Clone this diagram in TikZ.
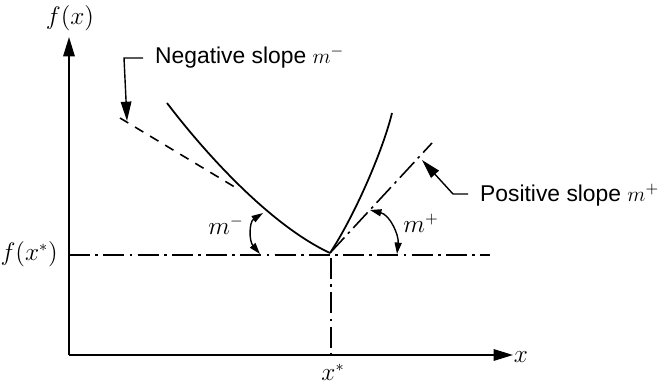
\documentclass[tikz,border=0pt]{standalone}
\usepackage{fontspec}
\setsansfont{Liberation Sans}
\usepackage{tikz}
\usetikzlibrary{arrows.meta, positioning}

\begin{document}
\begin{tikzpicture}[
    x=0.02cm, y=-0.02cm,
    axis/.style={line width=1pt, -{Triangle[length=11pt, width=6.5pt]}},
    curve/.style={line width=1pt},
    dashdot/.style={line width=0.9pt, dash pattern=on 12pt off 3pt on 1.5pt off 3pt},
    tangent/.style={line width=0.9pt, dash pattern=on 5.5pt off 4.5pt},
    leader/.style={line width=0.8pt, -{Triangle[length=11pt, width=6pt]}},
    angle/.style={line width=0.8pt, {Triangle[length=6.5pt, width=4pt]}-{Triangle[length=6.5pt, width=4pt]}},
    callout/.style={font=\sffamily\fontsize{13}{15}\selectfont, anchor=west},
    mathlbl/.style={font=\fontsize{13.5}{15}\selectfont},
]
    \useasboundingbox (0,0) rectangle (665,385);

    \coordinate (origin) at (69,355);
    \coordinate (ytip) at (69,37);
    \coordinate (xtip) at (513,355);
    \coordinate (vertex) at (330,253);
    \coordinate (hleft) at (69,255);
    \coordinate (hright) at (490,255);
    \coordinate (vtop) at (331,258);
    \coordinate (vbot) at (331,355);

    \draw[axis] (origin) -- (ytip);
    \draw[axis] (origin) -- (xtip);
    \node[mathlbl] (fx) at (70,18) {$f(x)$};
    \node[mathlbl] (xlbl) at (521,357) {$x$};
    \node[mathlbl, anchor=east] (fxstar) at (64,254) {$f(x^{*})$};
    \node[mathlbl, inner sep=1pt] (xstar) at (333,372) {$x^{*}$};

    \draw[dashdot] (hleft) -- (hright);
    \draw[dashdot] (vtop) -- (vbot);

    \coordinate (ltop) at (167,103);
    \coordinate (rtop) at (392,113);
    \draw[curve] (ltop) .. controls (205,153) and (270,225) .. (vertex);
    \draw[curve] (vertex) .. controls (355,215) and (383,150) .. (rtop);

    \coordinate (negstart) at (120,118);
    \coordinate (negend) at (238,189);
    \draw[tangent] (negstart) -- (negend);
    \coordinate (posend) at (432,143);
    \draw[dashdot] (vertex) -- (posend);

    \node[callout] (negtext) at (149,57) {Negative slope $m^{-}$};
    \coordinate (negbend) at (124,58);
    \draw[leader] (143,58) -- (negbend) -- (127,121);
    \node[callout] (postext) at (474,195) {Positive slope $m^{+}$};
    \coordinate (posbend) at (453,194);
    \draw[leader] (468,194) -- (posbend) -- (422,160);

    \coordinate (mminus1) at (263,213);
    \coordinate (mminus2) at (260,254);
    \draw[angle] (mminus1) .. controls (249,222) and (249,241) .. (mminus2);
    \node[mathlbl] (mminus) at (226,225) {$m^{-}$};
    \coordinate (mplus1) at (370,210);
    \coordinate (mplus2) at (397,254);
    \draw[angle] (mplus1) .. controls (390,215) and (399,235) .. (mplus2);
    \node[mathlbl] (mplus) at (421,223) {$m^{+}$};
\end{tikzpicture}
\end{document}
